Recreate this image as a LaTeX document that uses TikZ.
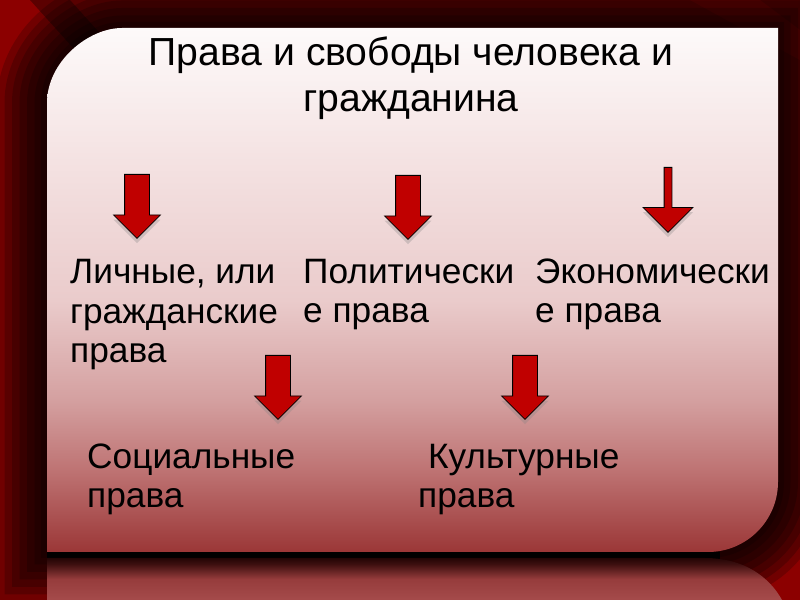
\documentclass[tikz,border=0pt]{standalone}
\usepackage{fontspec}
\setmainfont{Liberation Sans}
\usetikzlibrary{shapes.arrows, shadows}
\definecolor{bgred}{RGB}{140,0,0}
\definecolor{arrowred}{RGB}{192,0,0}
\definecolor{pnlA}{RGB}{155,55,55}
\definecolor{pnlB}{RGB}{190,115,115}
\definecolor{pnlC}{RGB}{212,160,160}
\definecolor{pnlD}{RGB}{234,203,203}
\definecolor{pnlE}{RGB}{245,228,228}
\definecolor{pnlF}{RGB}{253,250,250}
\definecolor{refA}{RGB}{165,75,75}
\definecolor{refB}{RGB}{150,60,60}
\definecolor{refC}{RGB}{60,15,15}
\definecolor{refD}{RGB}{35,5,5}
\pgfdeclareverticalshading{panelshade}{100bp}{color(0bp)=(pnlA); color(25bp)=(pnlA); color(32.8bp)=(pnlB); color(39.5bp)=(pnlC); color(49bp)=(pnlD); color(63.4bp)=(pnlE); color(75bp)=(pnlF); color(100bp)=(pnlF)}
\pgfdeclareverticalshading{mirrorshade}{100bp}{color(0bp)=(refA); color(25bp)=(refA); color(50bp)=(refB); color(68bp)=(refC); color(75bp)=(refD); color(100bp)=(refD)}
\newcommand\panelpath{(47,103) .. controls (47,61.6) and (88.4,28) .. (122,28) -- (778,28) -- (778,482) .. controls (778,520.6) and (746.6,552) .. (708,552) -- (47,552) -- cycle}
\tikzset{
    downarrow/.style = {single arrow, draw=black, line width=0.7pt, fill=arrowred, inner xsep=0pt, inner ysep=0.36cm, single arrow tip angle=90, single arrow head extend=0.33cm, minimum height=1.92cm, rotate=-90, anchor=tail, drop shadow={opacity=0.3, shadow xshift=0pt, shadow yshift=-4pt}},
    thinarrow/.style = {downarrow, inner ysep=0.105cm, single arrow head extend=0.63cm, minimum height=1.95cm},
    titletext/.style = {font=\fontsize{33.4pt}{39.3pt}\selectfont, align=center, anchor=base, inner sep=0pt},
    kindtext/.style = {font=\fontsize{30.1pt}{34.1pt}\selectfont, align=left, anchor=base west, inner sep=0pt}
}
\begin{document}
\begin{tikzpicture}[x=0.03cm, y=-0.03cm]
\useasboundingbox (0,0) rectangle (800,600);
% background and panel
\fill[bgred] (0,0) rectangle (800,600);
\fill[black, opacity=0.35] (30,0) -- (70,0) -- (160,100) -- (120,100) -- cycle;
\fill[red!70!black, opacity=0.6] (690,0) -- (760,0) -- (800,30) -- (800,60) -- cycle;
\foreach \w in {100,85,70,55,40,25,12}
    \draw[black, opacity=0.2, line width=\w*0.03cm] \panelpath;
\fill[black] (47,552) rectangle (720,560);
\shade[shading=mirrorshade] (47,558) -- (705,558) .. controls (745,558) and (770,578) .. (782,600) -- (47,600) -- cycle;
\shade[shading=panelshade] \panelpath;

\node (title) [titletext] at (411,112) {Права и свободы человека и\\гражданина};

\node (arrPersonal) [downarrow] at (137,174) {};
\node (arrPolitical) [downarrow] at (408,175) {};
\node (arrEconomic) [thinarrow] at (668,167) {};
\node (arrSocial) [downarrow] at (278,355) {};
\node (arrCultural) [downarrow] at (525,355) {};

% the last line of each text sits on the given baseline
\node (personal) [kindtext] at (70,363) {Личные, или\\гражданские\\права};
\node (political) [kindtext] at (303,323) {Политически\\е права};
\node (economic) [kindtext] at (535,323) {Экономически\\е права};
\node (social) [kindtext] at (87,508) {Социальные\\права};
\node (cultural) [kindtext] at (418,508) {\ Культурные\\права};
\end{tikzpicture}
\end{document}
